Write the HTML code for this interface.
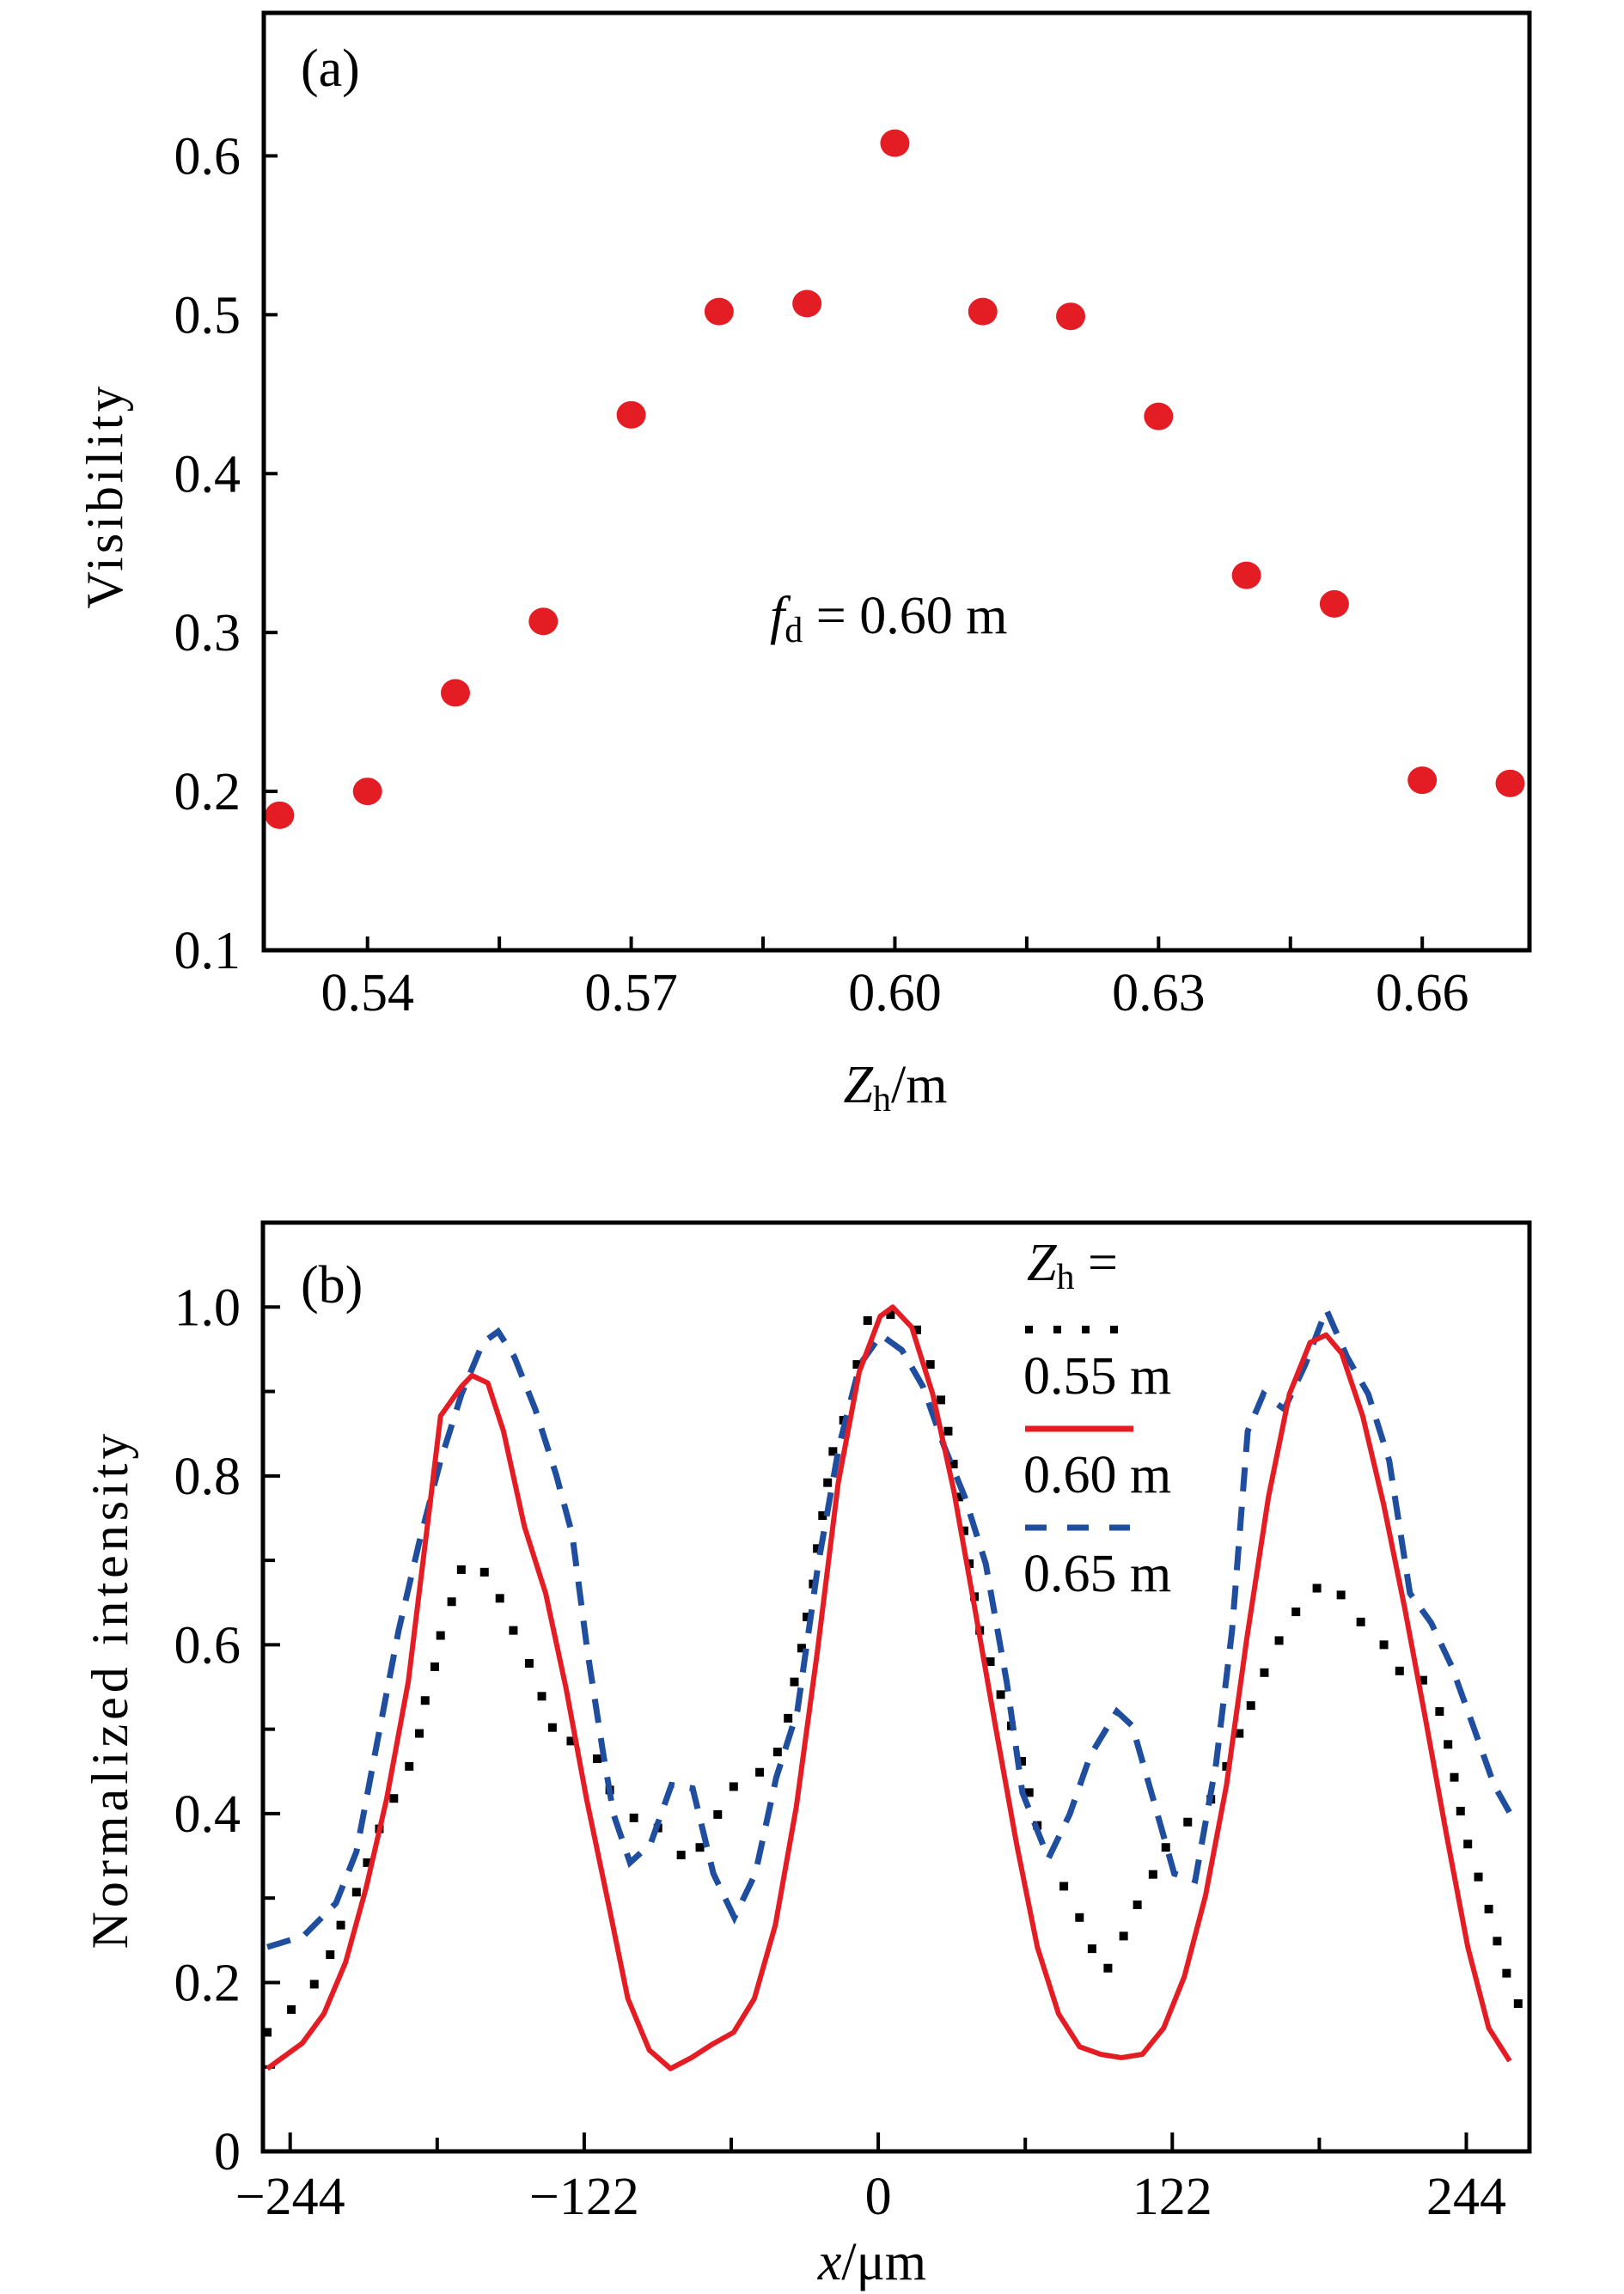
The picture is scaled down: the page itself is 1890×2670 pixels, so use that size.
<!DOCTYPE html>
<html><head><meta charset="utf-8">
<style>
html,body{margin:0;padding:0;background:#fff;}
svg{display:block;}
text{font-family:"Liberation Serif",serif;fill:#000;}
</style></head>
<body>
<svg id="fig" width="1890" height="2670" viewBox="0 0 1890 2670" xmlns="http://www.w3.org/2000/svg">
<g id="pa"></g>
<g id="pb"></g>
</svg>
<script>
// Panel (a) data
const zhValues = [0.53,0.54,0.55,0.56,0.57,0.58,0.59,0.60,0.61,0.62,0.63,0.64,0.65,0.66,0.67];
const visibility = [0.185,0.200,0.262,0.307,0.437,0.502,0.507,0.608,0.502,0.499,0.436,0.336,0.318,0.207,0.205];
const aXTickLabels = ["0.54","0.57","0.60","0.63","0.66"];
const aYTickLabels = ["0.1","0.2","0.3","0.4","0.5","0.6"];
// Panel (b) data
const redX = [-253.5,-239,-230,-221,-212.5,-204,-195,-186,-181.6,-172.9,-168.6,-162,-155.5,-146.8,-138,-129.5,-121,-112,-103.9,-95,-86.2,-77.5,-68.8,-60,-51.4,-42.7,-34,-25.3,-16.6,-7.9,0.8,6,13.9,22.6,31.3,40,48.6,57.4,66,74.8,83.5,92.2,100.9,109.6,118.4,127,135.8,144.5,153,161.9,170.6,179.2,185.8,192.3,201,209.7,218.4,227,235.9,244.6,253.3,262];
const redY = [0.098,0.128,0.163,0.224,0.312,0.417,0.556,0.766,0.871,0.906,0.919,0.91,0.853,0.74,0.661,0.548,0.417,0.294,0.181,0.12,0.098,0.111,0.127,0.141,0.181,0.268,0.408,0.591,0.792,0.923,0.989,1.0,0.976,0.897,0.783,0.644,0.504,0.364,0.242,0.163,0.124,0.115,0.111,0.115,0.146,0.207,0.303,0.434,0.609,0.775,0.897,0.958,0.967,0.945,0.871,0.766,0.644,0.513,0.373,0.242,0.146,0.107];
const blueX = [-253.5,-238.5,-225,-216.5,-207.8,-199,-190.4,-181.6,-172.9,-164,-157.7,-151,-142.3,-133.6,-127,-120.6,-114,-109.8,-103,-94.5,-85.8,-77,-68.4,-59.7,-51,-42.3,-33.6,-24.9,-16.2,-7.6,1.1,9.8,18.5,27.2,35.9,44.6,53.3,59.8,70.6,79.4,88,99,105.4,114.1,122.8,131.5,140.2,146.8,153.3,159.8,168.5,177.2,185.9,194.5,203.3,212,220.6,229.4,238,246.8,255.5,264.2];
const blueY = [0.242,0.255,0.294,0.355,0.486,0.617,0.722,0.818,0.897,0.958,0.971,0.941,0.879,0.801,0.731,0.591,0.469,0.399,0.342,0.364,0.434,0.430,0.329,0.277,0.329,0.443,0.521,0.696,0.836,0.932,0.967,0.949,0.906,0.836,0.775,0.696,0.556,0.425,0.347,0.399,0.469,0.521,0.504,0.417,0.329,0.321,0.460,0.617,0.853,0.897,0.879,0.932,0.997,0.941,0.897,0.818,0.661,0.626,0.574,0.504,0.434,0.390];
const blackX = [-253.5,-243.5,-234,-227.4,-223,-216.5,-212,-207,-201,-194.6,-190.4,-188,-184,-181.6,-177,-173,-163.4,-157,-151.4,-144.8,-139.6,-135.2,-127.5,-116.6,-111.4,-101.4,-91.4,-81.8,-74,-66.6,-60,-49.2,-41.8,-37.4,-34.8,-31.8,-29.6,-27,-25.3,-23.1,-21,-18.8,-14.4,-8.8,-4.4,5.1,16,21.6,26,29,31.2,33.4,35.6,37.8,39.9,42.1,46.5,50.8,55.2,59.5,62.6,66,77,83.5,88.7,95.3,101.8,107.5,114,119.3,128.4,138,144.5,149.8,154.6,160.2,166.3,173.3,182,192,200.2,209.8,216.3,226,232.9,236.4,239,241.6,244.6,249,253.3,256.8,260.7,265.5];
const blackY = [0.141,0.168,0.198,0.233,0.268,0.307,0.342,0.382,0.418,0.456,0.495,0.534,0.574,0.611,0.651,0.689,0.686,0.655,0.617,0.578,0.539,0.502,0.486,0.465,0.428,0.395,0.383,0.351,0.360,0.399,0.432,0.449,0.473,0.513,0.556,0.596,0.633,0.672,0.714,0.753,0.792,0.829,0.866,0.932,0.984,0.991,0.973,0.932,0.89,0.853,0.814,0.775,0.735,0.696,0.657,0.617,0.580,0.541,0.504,0.462,0.425,0.386,0.314,0.277,0.240,0.217,0.255,0.292,0.328,0.360,0.390,0.417,0.456,0.495,0.528,0.567,0.605,0.639,0.667,0.659,0.627,0.600,0.569,0.558,0.521,0.482,0.443,0.403,0.364,0.325,0.287,0.249,0.211,0.175];
const bXTickLabels = ["\u2212244","\u2212122","0","122","244"];
const bYTickLabels = ["0","0.2","0.4","0.6","0.8","1.0"];

const NS="http://www.w3.org/2000/svg";
function mk(parent,tag,attrs,txt){const e=document.createElementNS(NS,tag);for(const k in attrs)e.setAttribute(k,attrs[k]);if(txt!==undefined)e.textContent=txt;parent.appendChild(e);return e;}

// ---------- Panel A ----------
const pa=document.getElementById('pa');
const A={l:307,r:1780,t:15,b:1106,x0:0.5282,x1:0.6722,y0:0.1,y1:0.69};
const ax=v=>A.l+(v-A.x0)/(A.x1-A.x0)*(A.r-A.l);
const ay=v=>A.b-(v-A.y0)/(A.y1-A.y0)*(A.b-A.t);
for(let i=0;i<9;i++){const v=0.54+i*0.015;const t=mk(pa,'line',{x1:ax(v),x2:ax(v),y1:A.b,y2:A.b-16,stroke:'#000','stroke-width':4});
}
aXTickLabels.forEach(s=>{const t=mk(pa,'text',{x:ax(parseFloat(s)),y:1176,'font-size':62,'text-anchor':'middle'},s);
});
aYTickLabels.forEach(s=>{const v=parseFloat(s);const l=mk(pa,'line',{x1:A.l,x2:A.l+16,y1:ay(v),y2:ay(v),stroke:'#000','stroke-width':4});

const t=mk(pa,'text',{x:280,y:ay(v)+21,'font-size':62,'text-anchor':'end'},s);
});
zhValues.forEach((z,i)=>{const c=mk(pa,'ellipse',{cx:ax(z),cy:ay(visibility[i]),rx:17,ry:16,fill:'#e41d25'});
});
const fa=mk(pa,'rect',{x:A.l,y:A.t,width:A.r-A.l,height:A.b-A.t,fill:'none',stroke:'#000','stroke-width':5});

</script>
<script>
{const pa=document.getElementById('pa');
let t=mk(pa,'text',{x:350,y:100,'font-size':62},'(a)');

t=mk(pa,'text',{x:896,y:737,'font-size':62});

t.innerHTML='<tspan font-style="italic">f</tspan><tspan font-size="42" dy="10">d</tspan><tspan dy="-10"> = 0.60 m</tspan>';
t=mk(pa,'text',{x:1042,y:1283,'font-size':62,'text-anchor':'middle'});

t.innerHTML='<tspan font-style="italic">Z</tspan><tspan font-size="42" dy="10">h</tspan><tspan dy="-10">/m</tspan>';
t=mk(pa,'text',{x:0,y:0,'font-size':60,'text-anchor':'middle','letter-spacing':4,transform:'translate(142,577) rotate(-90)'},'Visibility');
}

// ---------- Panel B ----------
const pb=document.getElementById('pb');
const B={l:306,r:1780,t:1423,b:2504,x0:-255.3,x1:270.2,y0:0,y1:1.1};
const bx=v=>B.l+(v-B.x0)/(B.x1-B.x0)*(B.r-B.l);
const by=v=>B.b-(v-B.y0)/(B.y1-B.y0)*(B.b-B.t);
for(let i=-4;i<=4;i++){const v=i*61;const l=mk(pb,'line',{x1:bx(v),x2:bx(v),y1:B.b,y2:B.b-(i%2===0?22:16),stroke:'#000','stroke-width':4});
}
bXTickLabels.forEach(s=>{const v=parseFloat(s.replace('\u2212','-'));const t=mk(pb,'text',{x:bx(v),y:2577,'font-size':62,'text-anchor':'middle'},s);
});
for(let i=1;i<=10;i++){const v=i*0.1;const l=mk(pb,'line',{x1:B.l,x2:B.l+(i%2===0?20:14),y1:by(v),y2:by(v),stroke:'#000','stroke-width':4});
}
bYTickLabels.forEach(s=>{const v=parseFloat(s);const t=mk(pb,'text',{x:280,y:by(v)+21,'font-size':62,'text-anchor':'end'},s);
});
blackX.forEach((x,i)=>{const r=mk(pb,'rect',{x:bx(x)-5,y:by(blackY[i])-5,width:10,height:10,fill:'#000'});
});
const bp=mk(pb,'polyline',{points:blueX.map((x,i)=>bx(x)+','+by(blueY[i])).join(' '),fill:'none',stroke:'#1f4e9e','stroke-width':7,'stroke-dasharray':'28 18'});

const rp=mk(pb,'polyline',{points:redX.map((x,i)=>bx(x)+','+by(redY[i])).join(' '),fill:'none',stroke:'#e41d25','stroke-width':6,'stroke-linejoin':'round'});

const fb=mk(pb,'rect',{x:B.l,y:B.t,width:B.r-B.l,height:B.b-B.t,fill:'none',stroke:'#000','stroke-width':5});

let t=mk(pb,'text',{x:350,y:1516,'font-size':62},'(b)');

const lg=mk(pb,'g',{});

t=mk(lg,'text',{x:1195,y:1490,'font-size':62});

t.innerHTML='<tspan font-style="italic">Z</tspan><tspan font-size="42" dy="10">h</tspan><tspan dy="-10"> =</tspan>';
for(let k=0;k<4;k++){const r=mk(lg,'rect',{x:1193+k*33,y:1543,width:9,height:9,fill:'#000'});
}
t=mk(lg,'text',{x:1191,y:1622,'font-size':62},'0.55 m');

let l=mk(lg,'line',{x1:1193,x2:1319,y1:1663,y2:1663,stroke:'#e41d25','stroke-width':7});

t=mk(lg,'text',{x:1191,y:1737,'font-size':62},'0.60 m');

l=mk(lg,'line',{x1:1193,x2:1315,y1:1778,y2:1778,stroke:'#1f4e9e','stroke-width':7,'stroke-dasharray':'25 24'});

t=mk(lg,'text',{x:1191,y:1852,'font-size':62},'0.65 m');

t=mk(pb,'text',{x:1015,y:2653,'font-size':62,'text-anchor':'middle'});

t.innerHTML='<tspan font-style="italic">x</tspan>/μm';
t=mk(pb,'text',{x:0,y:0,'font-size':60,'text-anchor':'middle','letter-spacing':5,transform:'translate(148,1966) rotate(-90)'},'Normalized intensity');

</script>
</body></html>
